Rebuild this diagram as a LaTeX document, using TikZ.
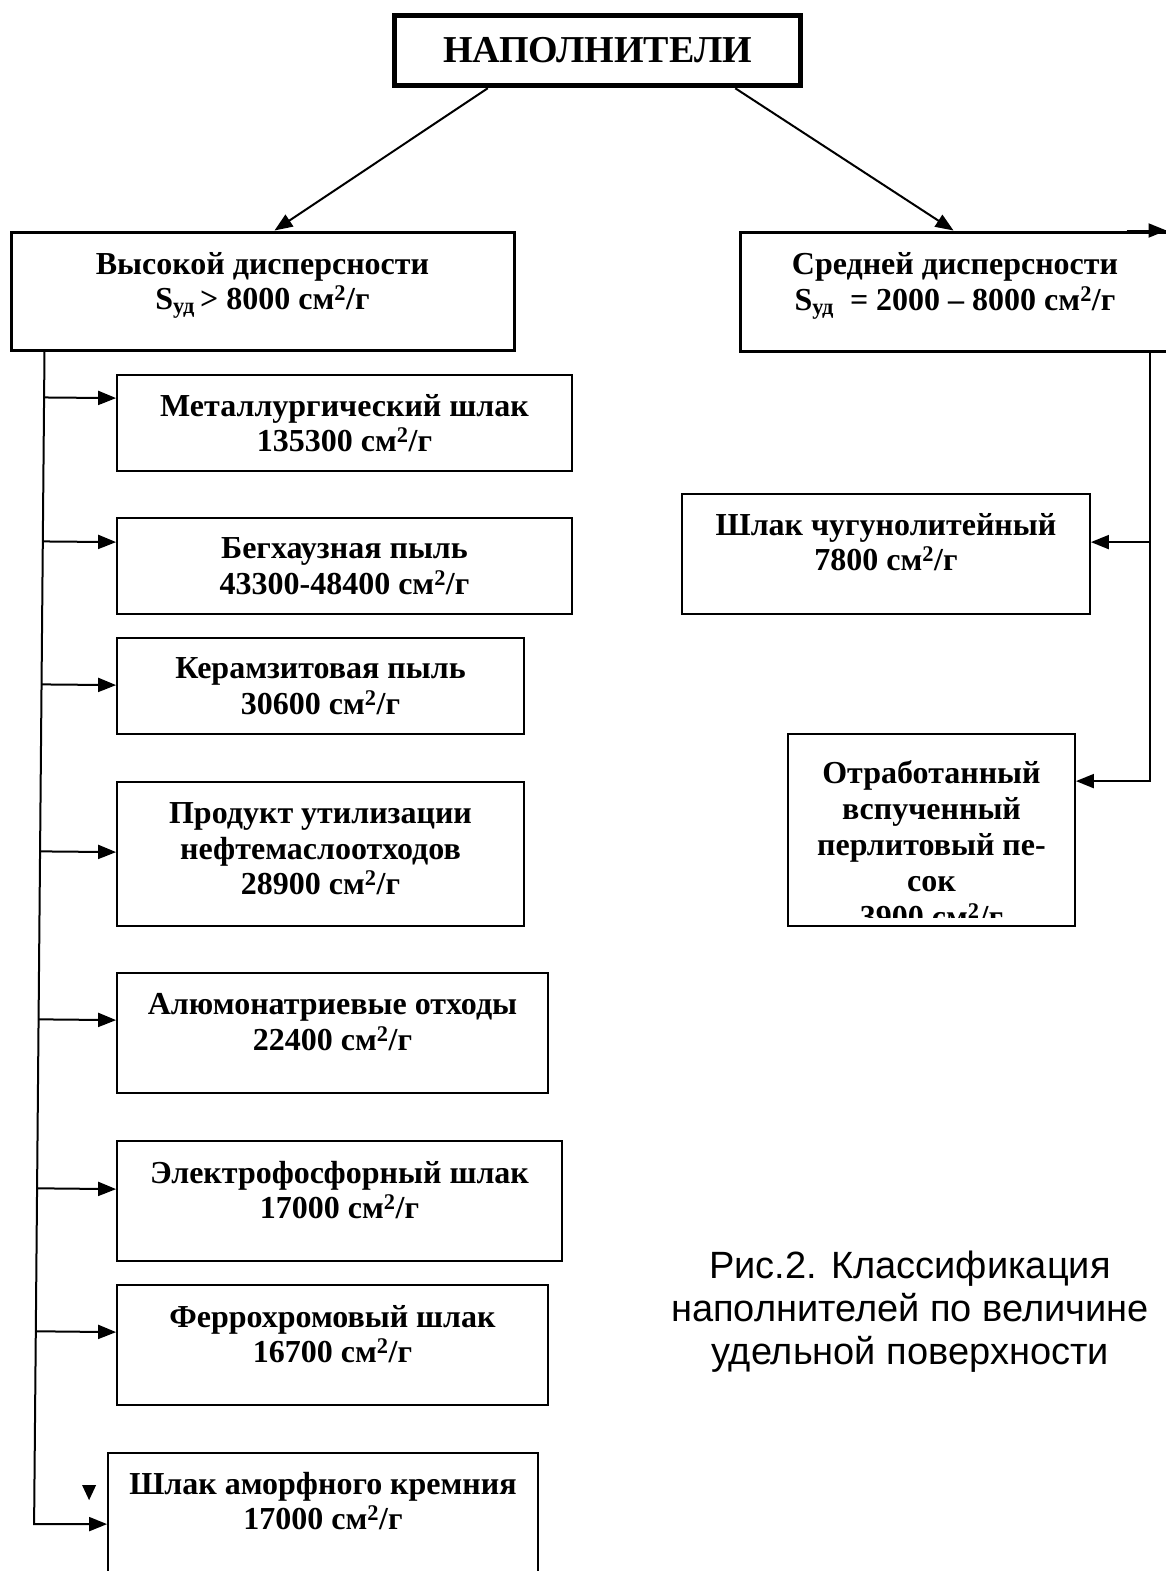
\documentclass[tikz,border=0pt]{standalone}
\usepackage{fontspec}
\setmainfont{Liberation Serif}
\newfontfamily\capfont{Liberation Sans}
\usetikzlibrary{arrows.meta}
\usetikzlibrary{calc}

\tikzset{
  box/.style={draw, line width=1.8pt, align=center, inner sep=0pt,
    font=\fontsize{32}{35.5}\selectfont\bfseries},
  bigbox/.style={box, line width=3pt},
  arr/.style={line width=2pt, -{Triangle[length=18pt,width=14pt]}},
}

\begin{document}
\begin{tikzpicture}[x=1pt,y=-1pt]
  \useasboundingbox (0,0) rectangle (1165,1571);

  % Top box
  \node[box, line width=5.5pt, minimum width=406pt, minimum height=70pt,
    font=\fontsize{38}{44}\selectfont\bfseries] (napoln) at (597.5,50.5) {НАПОЛНИТЕЛИ};

  % Two groups
  \node[bigbox, minimum width=503pt, minimum height=118pt, text depth=20pt] (high) at (262.5,291)
    {Высокой дисперсности\\S\textsubscript{уд}\,> 8000 см\textsuperscript{2}/г};
  \node[bigbox, minimum width=430pt, minimum height=119pt, text depth=20pt] (mid) at (955,291.5)
    {Средней дисперсности\\S\textsubscript{уд} \ = 2000 – 8000 см\textsuperscript{2}/г};

  \draw[arr] ([xshift=96pt]napoln.south west) -- ([xshift=265pt]high.north west);
  \draw[arr] ([xshift=-68pt]napoln.south east) -- ([xshift=215pt]mid.north west);
  \draw[arr] ([xshift=-45pt]mid.north east) -- ([xshift=-5pt]mid.north east);

  % High dispersity fillers
  \node[box, minimum width=455pt, minimum height=96pt] (metal) at (344.5,423)
    {Металлургический шлак\\135300 см\textsuperscript{2}/г};
  \node[box, minimum width=455pt, minimum height=96pt] (begh) at (344.5,566)
    {Бегхаузная пыль\\43300-48400 см\textsuperscript{2}/г};
  \node[box, minimum width=407pt, minimum height=96pt] (keram) at (320.5,686)
    {Керамзитовая пыль\\30600 см\textsuperscript{2}/г};
  \node[box, minimum width=407pt, minimum height=144pt, text depth=10pt] (prod) at (320.5,854)
    {Продукт утилизации\\нефтемаслоотходов\\28900 см\textsuperscript{2}/г};
  \node[box, minimum width=431pt, minimum height=120pt, text depth=22pt] (alum) at (332.5,1033)
    {Алюмонатриевые отходы\\22400 см\textsuperscript{2}/г};
  \node[box, minimum width=445pt, minimum height=120pt, text depth=22pt] (elec) at (339.5,1201)
    {Электрофосфорный шлак\\17000 см\textsuperscript{2}/г};
  \node[box, minimum width=431pt, minimum height=120pt, text depth=22pt] (ferro) at (332.5,1345)
    {Феррохромовый шлак\\16700 см\textsuperscript{2}/г};
  \node[box, minimum width=430pt, minimum height=120pt, text depth=24pt] (amorph) at (323,1513)
    {Шлак аморфного кремния\\17000 см\textsuperscript{2}/г};

  % Middle dispersity fillers
  \node[box, minimum width=408pt, minimum height=120pt, text depth=24pt] (chugun) at (886,554)
    {Шлак чугунолитейный\\7800 см\textsuperscript{2}/г};
  \node[box, minimum width=287pt, minimum height=192pt] (perlit) at (931.5,830) {};
  \begin{scope}
    \clip (perlit.north west) rectangle ([yshift=9pt]perlit.south east);
    \node[box, draw=none, anchor=north, font=\fontsize{32}{36}\selectfont\bfseries] (perlittext) at (931.5,760)
      {Отработанный\\вспученный\\перлитовый пе-\\сок\\3900 см\textsuperscript{2}/г};
  \end{scope}

  % Left trunk
  \coordinate (ltop) at ([xshift=35pt]high.south west);
  \coordinate (amin) at ([yshift=-72pt]amorph.north west);
  \coordinate (lbot) at ([xshift=-73pt]amin);
  \draw[arr] (ltop) -- (lbot) -- (amin);
  \foreach \b/\d in {metal/24, begh/25, keram/48, prod/71, alum/48, elec/49, ferro/48} {
    \coordinate (tip) at ([yshift=-\d pt]\b.north west);
    \draw[arr] ($(ltop)!(tip)!(lbot)$) -- (tip);
  }
  \fill ([shift={(-25pt,-33pt)}]amorph.north west) -- ++(14,0) -- ++(-7,15) -- cycle;

  % Right trunk
  \coordinate (rtop) at ([xshift=-22pt]mid.south east);
  \coordinate (chin) at ([yshift=-49pt]chugun.north east);
  \draw[arr] (rtop) |- ([yshift=-48pt]perlit.north east);
  \draw[arr] (chin -| rtop) -- (chin);

  % Caption
  \node[font=\capfont\fontsize{38}{43}\selectfont, align=center] (caption) at (910,1312)
    {Рис.2. Классификация\\наполнителей по величине\\удельной поверхности};
\end{tikzpicture}
\end{document}
